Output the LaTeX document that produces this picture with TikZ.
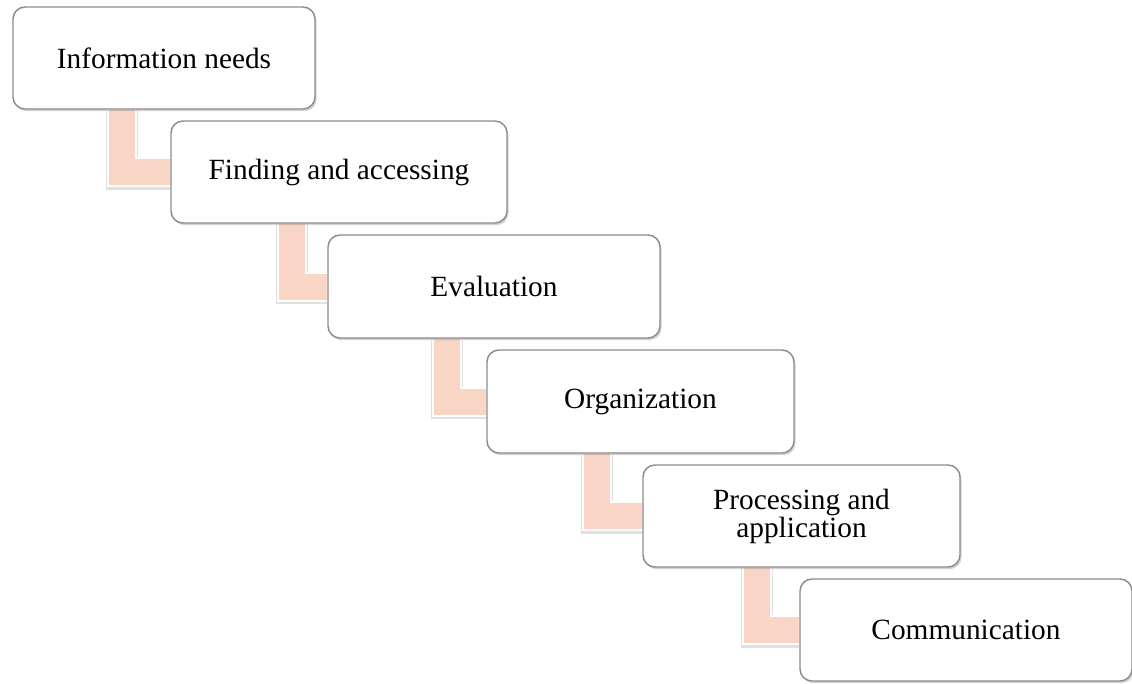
\documentclass[tikz,border=0pt]{standalone}
\usepackage{tikz}
\usepackage{color}
\usepackage{fontspec}
\setmainfont{Liberation Serif}
\usetikzlibrary{shadows,calc}
\pgfdeclarelayer{background}
\pgfsetlayers{background,main}
\definecolor{peach}{RGB}{248,213,196}
\definecolor{edge}{RGB}{140,140,140}
\tikzset{
  stepnode/.style = {align=center, inner sep=0pt, text centered,
    font=\fontsize{22}{19}\selectfont},
  stagebox/.style = {stepnode, rectangle, rounded corners=9pt, draw=edge,
    line width=1.1pt, fill=white,
    drop shadow={shadow xshift=1.2pt, shadow yshift=-1.6pt, opacity=0.35}},% boite
  link/.style = {draw=white, double=peach, line width=1.5pt,
    double distance=19.5pt, line join=miter},% lien saumon
  linkshade/.style = {draw=black, opacity=0.12, line width=24pt,
    line join=miter, transform canvas={yshift=-1.2pt}}% ombre du lien
}
\begin{document}
\begin{tikzpicture}[x=0.75pt,y=-0.75pt]
\useasboundingbox (0,0) rectangle (1132,683);
\node [stagebox, minimum width=302*0.75pt, minimum height=102*0.75pt] (inf) at (164,58) {Information needs};
\node [stagebox, minimum width=336*0.75pt, minimum height=102*0.75pt] (find) at (339,172) {Finding and accessing};
\node [stagebox, minimum width=332*0.75pt, minimum height=103*0.75pt] (eval) at (494,286.5) {Evaluation};
\node [stagebox, minimum width=307*0.75pt, minimum height=103*0.75pt] (org) at (640.5,401.5) {Organization};
\node [stagebox, minimum width=317*0.75pt, minimum height=102*0.75pt] (proc) at (801.5,516) {Processing and\\application};
\node [stagebox, minimum width=332*0.75pt, minimum height=102*0.75pt] (comm) at (966,630) {Communication};
\begin{pgfonlayer}{background}
\foreach \a/\b in {inf/find, find/eval, eval/org, org/proc, proc/comm}{
  \draw [linkshade] ($(\a.south west)!0.36!(\a.south east)$) |- (\b.west);
  \draw [link] ($(\a.south west)!0.36!(\a.south east)$) |- (\b.west);
}
\end{pgfonlayer}
\end{tikzpicture}
\end{document}
